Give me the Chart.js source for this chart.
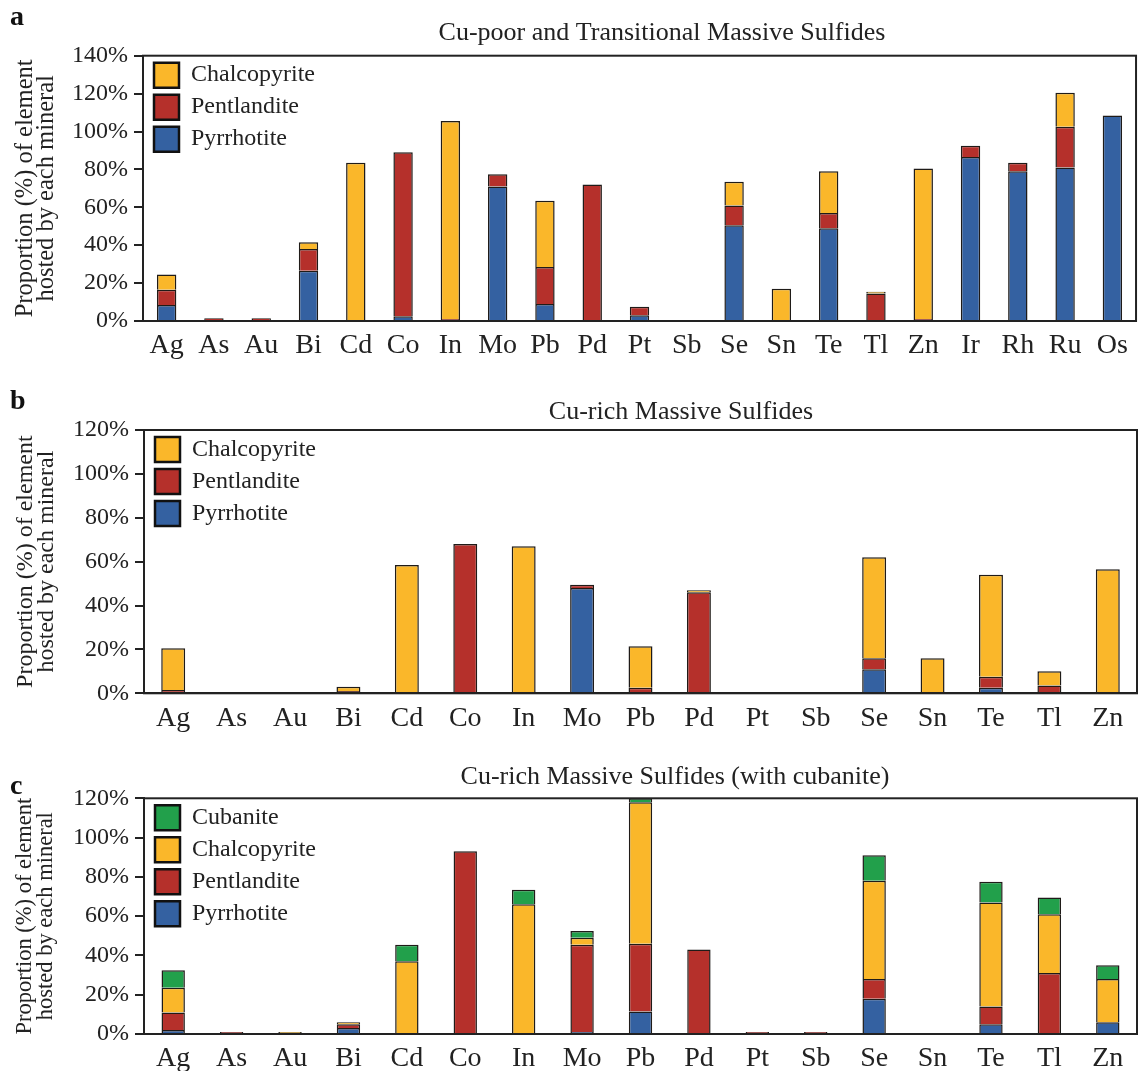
<!DOCTYPE html>
<html>
<head>
<meta charset="utf-8">
<title>Proportion of elements hosted by each sulfide mineral</title>
<script src="https://cdn.jsdelivr.net/npm/chart.js@4.4.1/dist/chart.umd.min.js"></script>
<style>
  html, body { margin: 0; padding: 0; background: #ffffff; }
  #wrap { position: relative; width: 1139px; height: 1071px; overflow: hidden; background: #ffffff; }
  .panel { position: absolute; left: 0; width: 1139px; }
  .panel canvas { display: block; }
  .letter { position: absolute; left: 10px; font: bold 28px 'Liberation Serif', 'Times New Roman', serif; line-height: 28px; color: #111; z-index: 2; }
</style>
</head>
<body>
<div id="wrap">
  <div class="panel" style="top:0px;height:365px"><canvas id="chartA" width="1139" height="365"></canvas></div>
  <div class="panel" style="top:375px;height:365px"><canvas id="chartB" width="1139" height="365"></canvas></div>
  <div class="panel" style="top:740px;height:331px"><canvas id="chartC" width="1139" height="331"></canvas></div>
  <div class="letter" style="top:2px">a</div>
  <div class="letter" style="top:386px">b</div>
  <div class="letter" style="top:771px">c</div>
</div>
<script>
// ---- Panel a: Cu-poor and transitional massive sulfides (% of each element) ----
const elementsA = ['Ag','As','Au','Bi','Cd','Co','In','Mo','Pb','Pd','Pt','Sb','Se','Sn','Te','Tl','Zn','Ir','Rh','Ru','Os'];
const pyrrhotiteA   = [8.5, 0, 0, 26.5, 0, 2.5, 0, 71, 9, 0, 3, 0, 50.5, 0, 49, 0, 0, 86.5, 79, 81, 108.5];
const pentlanditeA  = [8, 1.5, 1.5, 11.5, 0, 86.5, 1, 6.5, 19.5, 72, 4.5, 0, 10.5, 0, 8, 14.5, 1, 6, 4.5, 21.5, 0];
const chalcopyriteA = [8, 0, 0, 3.5, 83.5, 0, 104.5, 0, 35, 0, 0, 0, 12.5, 17, 22, 1, 79.5, 0, 0, 18, 0];

// ---- Panel b: Cu-rich massive sulfides ----
const elementsB = ['Ag','As','Au','Bi','Cd','Co','In','Mo','Pb','Pd','Pt','Sb','Se','Sn','Te','Tl','Zn'];
const pyrrhotiteB   = [0, 0, 0, 0, 0, 0, 0, 48, 0, 0, 0, 0, 11, 0, 2.5, 0, 0];
const pentlanditeB  = [1.5, 0, 0, 1, 0, 68, 0, 1.5, 2.5, 46, 0, 0, 5, 0, 5, 3.5, 0];
const chalcopyriteB = [19, 0, 0, 2, 58.5, 0, 67, 0, 19, 1, 0, 0, 46, 16, 46.5, 6.5, 56.5];

// ---- Panel c: Cu-rich massive sulfides with cubanite ----
const elementsC = ['Ag','As','Au','Bi','Cd','Co','In','Mo','Pb','Pd','Pt','Sb','Se','Sn','Te','Tl','Zn'];
const pyrrhotiteC   = [2, 0, 0, 3, 0, 0, 0, 1, 11.5, 0, 0, 0, 18, 0, 5, 0, 6];
const pentlanditeC  = [9, 1, 0, 2, 0, 93, 0, 44.5, 34.5, 43, 1, 1, 10, 0, 9, 31, 0];
const chalcopyriteC = [12.5, 0, 1, 1, 37, 0, 66, 3.5, 72, 0, 0, 0, 50, 0, 53, 30, 22];
const cubaniteC     = [9, 0, 0, 0, 8.5, 0, 7.5, 3.5, 2, 0, 0, 0, 13, 0, 10.5, 8.5, 7];

const yTicksA = [0, 20, 40, 60, 80, 100, 120, 140];
const yTicksBC = [0, 20, 40, 60, 80, 100, 120];

// ---- styling ----
const SERIF = "'Liberation Serif', 'Times New Roman', serif";
const INK = '#222222';
const EDGE = '#1f1b18';
const COLORS = {
  Pyrrhotite: '#3461a1',
  Pentlandite: '#b5302b',
  Chalcopyrite: '#fab72a',
  Cubanite: '#22a04b'
};

Chart.defaults.font.family = SERIF;
Chart.defaults.color = INK;

// box around the plotting area
const framePlugin = {
  id: 'frame',
  afterDraw(chart) {
    const { ctx, chartArea: a } = chart;
    ctx.save();
    ctx.strokeStyle = INK;
    ctx.lineWidth = 2;
    ctx.strokeRect(a.left, a.top, a.right - a.left, a.bottom - a.top);
    ctx.restore();
  }
};

// place legend inside the top-left of the plot, and centre the title over a chosen x
const placementPlugin = {
  id: 'placement',
  afterLayout(chart, args, opts) {
    const a = chart.chartArea;
    const lg = chart.legend;
    if (lg) {
      lg.left = a.left + opts.legendDx;
      lg.top = a.top + opts.legendDy;
      lg.right = a.right;
      lg.bottom = a.bottom;
    }
    const tb = chart.titleBlock;
    if (tb) {
      tb.left = opts.titleX - 450;
      tb.right = opts.titleX + 450;
    }
  }
};

function makeDataset(label, values, barPct) {
  return {
    label: label,
    data: values,
    backgroundColor: COLORS[label],
    borderColor: EDGE,
    borderWidth: 1.5,
    barPercentage: barPct,
    categoryPercentage: 1.0
  };
}

function makePanel(id, p) {
  const datasets = p.series.map(s => makeDataset(s[0], s[1], p.barPct));
  return new Chart(document.getElementById(id), {
    type: 'bar',
    data: { labels: p.labels, datasets: datasets },
    plugins: [framePlugin, placementPlugin],
    options: {
      responsive: false,
      animation: false,
      events: [],
      layout: { padding: { left: 0, right: 2, top: 0, bottom: 0 } },
      plugins: {
        tooltip: { enabled: false },
        placement: { legendDx: 4, legendDy: 0, titleX: p.titleX },
        title: {
          display: true,
          text: p.title,
          color: INK,
          font: { family: SERIF, size: 26, weight: 'normal', lineHeight: 1.2 },
          padding: { top: p.titleTop, bottom: p.titleBottom }
        },
        legend: {
          display: true,
          position: 'chartArea',
          align: 'start',
          reverse: true,
          labels: {
            boxWidth: 25,
            boxHeight: 25,
            padding: 7,
            color: INK,
            font: { family: SERIF, size: 24 },
            generateLabels(chart) {
              const items = Chart.defaults.plugins.legend.labels.generateLabels(chart);
              return items.map(it => Object.assign(it, { lineWidth: 2.5, strokeStyle: '#111111' }));
            }
          }
        }
      },
      scales: {
        x: {
          stacked: true,
          afterFit(s) { s.height = p.xHeight; },
          grid: { display: false, drawTicks: false },
          border: { display: true, color: INK, width: 2 },
          ticks: {
            autoSkip: false, maxRotation: 0, padding: 11, color: INK,
            font: { family: SERIF, size: 28, lineHeight: 1 }
          }
        },
        y: {
          stacked: true,
          min: 0,
          max: p.yTicks[p.yTicks.length - 1],
          afterFit(s) { s.width = p.yWidth; },
          afterBuildTicks(s) { s.ticks = p.yTicks.map(v => ({ value: v })); },
          grid: { drawOnChartArea: false, drawTicks: true, tickLength: 9, color: INK, lineWidth: 2 },
          border: { display: true, color: INK, width: 2 },
          ticks: {
            padding: 6, color: INK,
            font: { family: SERIF, size: 24 },
            callback: v => v + '%'
          },
          title: {
            display: true,
            text: ['Proportion (%) of element', 'hosted by each mineral'],
            color: INK,
            font: { family: SERIF, size: p.yTitleSize, lineHeight: 21 / p.yTitleSize },
            padding: { top: 15, bottom: 0 }
          }
        }
      }
    }
  });
}

makePanel('chartA', {
  labels: elementsA,
  series: [['Pyrrhotite', pyrrhotiteA], ['Pentlandite', pentlanditeA], ['Chalcopyrite', chalcopyriteA]],
  yTicks: yTicksA,
  title: 'Cu-poor and Transitional Massive Sulfides',
  titleX: 662, titleTop: 18, titleBottom: 6.5,
  xHeight: 44, yWidth: 143, barPct: 0.41, yTitleSize: 24.5
});

makePanel('chartB', {
  labels: elementsB,
  series: [['Pyrrhotite', pyrrhotiteB], ['Pentlandite', pentlanditeB], ['Chalcopyrite', chalcopyriteB]],
  yTicks: yTicksBC,
  title: 'Cu-rich Massive Sulfides',
  titleX: 681, titleTop: 21.4, titleBottom: 2.4,
  xHeight: 46.7, yWidth: 144, barPct: 0.41, yTitleSize: 24
});

makePanel('chartC', {
  labels: elementsC,
  series: [['Pyrrhotite', pyrrhotiteC], ['Pentlandite', pentlanditeC], ['Chalcopyrite', chalcopyriteC], ['Cubanite', cubaniteC]],
  yTicks: yTicksBC,
  title: 'Cu-rich Massive Sulfides (with cubanite)',
  titleX: 675, titleTop: 21.4, titleBottom: 5.7,
  xHeight: 37, yWidth: 144, barPct: 0.40, yTitleSize: 22.5
});
</script>
</body>
</html>
